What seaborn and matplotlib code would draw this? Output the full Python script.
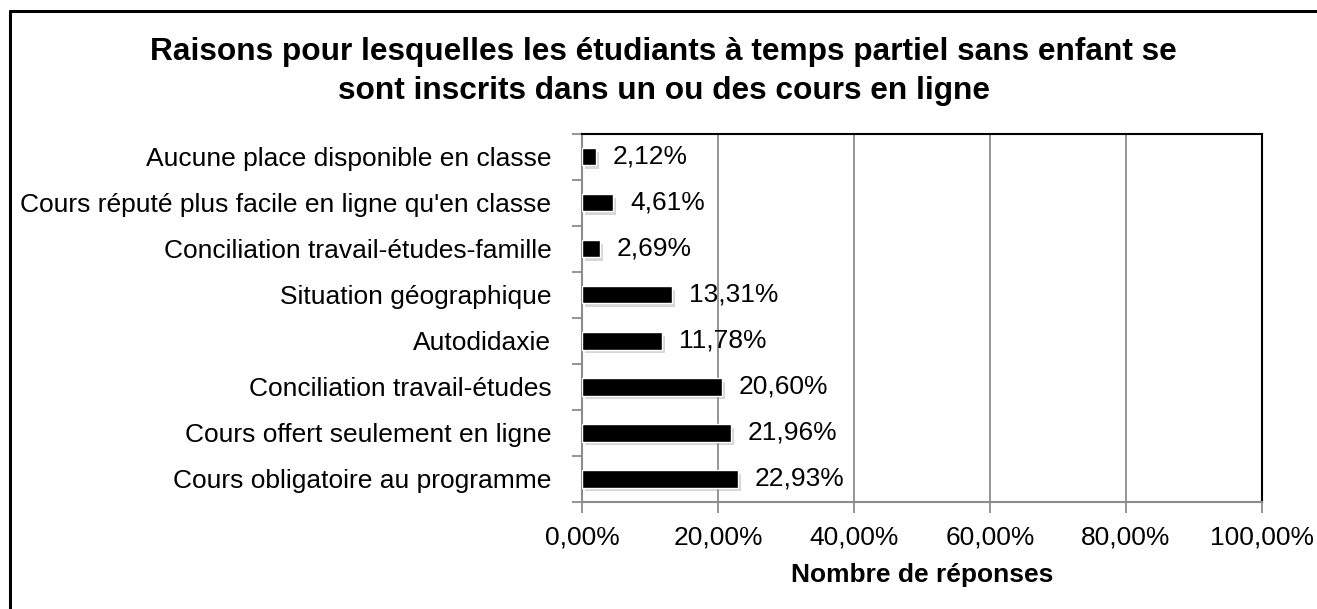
import matplotlib
matplotlib.use("Agg")
import matplotlib.pyplot as plt
import matplotlib.ticker as mtick
import matplotlib.patheffects as pe
from matplotlib.lines import Line2D
import seaborn as sns

# Data (top to bottom)
reasons = ["Aucune place disponible en classe",
           "Cours réputé plus facile en ligne qu'en classe",
           "Conciliation travail-études-famille",
           "Situation géographique",
           "Autodidaxie",
           "Conciliation travail-études",
           "Cours offert seulement en ligne",
           "Cours obligatoire au programme"]
shares = [2.12, 4.61, 2.69, 13.31, 11.78, 20.60, 21.96, 22.93]
x_ticks = [0, 20, 40, 60, 80, 100]

title = ("Raisons pour lesquelles les étudiants à temps partiel sans enfant se\n"
         "sont inscrits dans un ou des cours en ligne")


def fr_pct(v, pos=None):
    return f"{v:.2f}%".replace(".", ",")


sns.set_style("white")
plt.rcParams["font.family"] = ["Liberation Sans", "DejaVu Sans"]
plt.rcParams["text.color"] = "black"
plt.rcParams["axes.labelcolor"] = "black"
plt.rcParams["xtick.labelcolor"] = "black"
plt.rcParams["ytick.labelcolor"] = "black"

fs = 19

fig = plt.figure(figsize=(13.17, 6.09), dpi=100)
ax = fig.add_axes([0.4419, 0.1757, 0.5163, 0.6043])

sns.barplot(x=shares, y=reasons, color="black", width=0.37, orient="h",
            saturation=1, ax=ax, zorder=3)

# soft Excel-like drop shadow on bars
for bar in ax.patches:
    bar.set_path_effects([pe.SimplePatchShadow(offset=(2, -2.5), shadow_rgbFace="0.55", alpha=0.35),
                          pe.Normal()])

ax.bar_label(ax.containers[0], labels=[fr_pct(v) for v in shares],
             padding=12, fontsize=fs)

ax.set_xlim(0, 100)
ax.set_xticks(x_ticks)
ax.xaxis.set_major_formatter(mtick.FuncFormatter(fr_pct))
ax.grid(axis="x", color="#8c8c8c", linewidth=1.3, zorder=0)
ax.set_axisbelow(True)

# category boundary ticks on the y axis
ax.set_yticks([i - 0.5 for i in range(len(reasons) + 1)], minor=True)
ax.tick_params(axis="y", which="major", length=0, pad=22, labelsize=fs)
ax.tick_params(axis="y", which="minor", length=7, width=1.3, color="#8c8c8c", left=True)
ax.tick_params(axis="x", which="major", length=8, width=1.3, color="#8c8c8c",
               bottom=True, pad=9, labelsize=fs)
ax.set_ylim(len(reasons) - 0.5, -0.5)

for side in ["left", "bottom"]:
    ax.spines[side].set_color("#8c8c8c")
    ax.spines[side].set_linewidth(1.5)
for side in ["top", "right"]:
    ax.spines[side].set_color("black")
    ax.spines[side].set_linewidth(1.5)

ax.set_xlabel("Nombre de réponses", fontsize=fs, fontweight="bold", labelpad=10)
ax.set_ylabel("")

fig.text(0.504, 0.94, title, ha="center", va="top", fontsize=22.8,
         fontweight="bold", linespacing=1.4)

# outer chart frame (left and top edges visible)
fig.add_artist(Line2D([0.0075, 1.0], [0.982, 0.982], color="black", linewidth=2.2,
                      transform=fig.transFigure))
fig.add_artist(Line2D([0.0075, 0.0075], [0.0, 0.982], color="black", linewidth=2.2,
                      transform=fig.transFigure))

fig.savefig("out.png", dpi=100)
